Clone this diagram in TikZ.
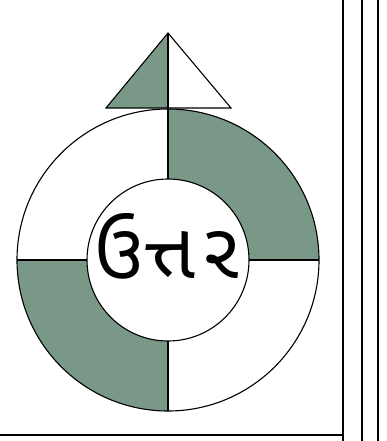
\documentclass[tikz,border=0pt]{standalone}
\usepackage{fontspec}
\newfontfamily\gujfont[Script=Gujarati]{Noto Sans Gujarati UI}
\definecolor{ringgreen}{RGB}{122,152,136}
\begin{document}
\begin{tikzpicture}[x=1pt,y=-1pt,line width=1.1pt,
  shade/.style={fill=ringgreen},
  frame/.style={line width=1.3pt}]
\useasboundingbox[fill=white] (0,0) rectangle (386,441);
% shaded quadrants of the ring
\fill[shade] (168,109) arc[start angle=-90,end angle=0,radius=151] -- (249,260)
  arc[start angle=0,end angle=-90,radius=81] -- cycle;
\fill[shade] (168,411) arc[start angle=90,end angle=180,radius=151] -- (87,260)
  arc[start angle=180,end angle=90,radius=81] -- cycle;
% circles
\draw (168,260) circle[radius=151];
\draw (168,260) circle[radius=81];
% dividers
\draw (168,109) -- (168,179);
\draw (168,341) -- (168,411);
\draw (17,260) -- (87,260);
\draw (249,260) -- (319,260);
% triangle
\fill[shade] (168,33) -- (106,108) -- (168,108) -- cycle;
\draw (168,33) -- (106,108) -- (231,108) -- cycle;
\draw (168,33) -- (168,108);
% word
\node[font=\gujfont\fontsize{78}{78}\selectfont,inner sep=0pt] (word) at (167,246) {ઉત્ત\hspace{9pt}ર};
% frame lines
\draw[frame] (343,0) -- (343,441);
\draw[frame] (362,0) -- (362,441);
\draw[frame] (378,0) -- (378,441);
\draw[frame] (0,435) -- (343,435);
\end{tikzpicture}
\end{document}
